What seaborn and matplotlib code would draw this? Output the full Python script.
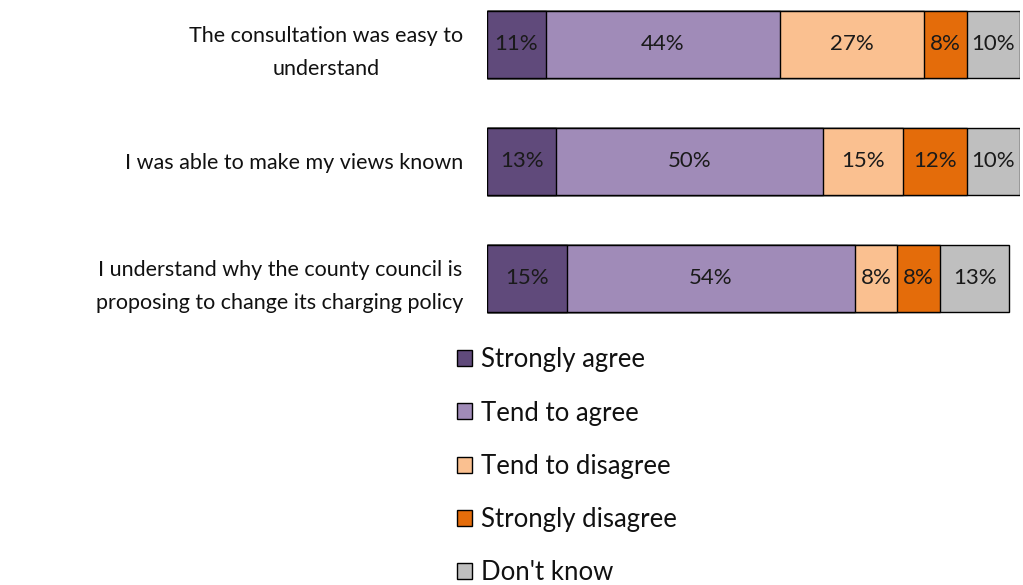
import matplotlib
matplotlib.use("Agg")
import matplotlib.pyplot as plt
import matplotlib.patches as mpatches
import numpy as np
import pandas as pd
import seaborn as sns

# Survey statements and response shares (%)
statements = [
    "The consultation was easy to\nunderstand",
    "I was able to make my views known",
    "I understand why the county council is\nproposing to change its charging policy",
]
responses = ["Strongly agree", "Tend to agree", "Tend to disagree",
             "Strongly disagree", "Don't know"]
strongly_agree = [11, 13, 15]
tend_to_agree = [44, 50, 54]
tend_to_disagree = [27, 15, 8]
strongly_disagree = [8, 12, 8]
dont_know = [10, 10, 13]
colors = ["#604A7B", "#A08BB8", "#FAC090", "#E46C0A", "#BFBFBF"]

sns.set_theme(style="white")
plt.rcParams["font.family"] = ["Lato", "DejaVu Sans"]

df = pd.DataFrame({
    "statement": statements,
    responses[0]: strongly_agree,
    responses[1]: tend_to_agree,
    responses[2]: tend_to_disagree,
    responses[3]: strongly_disagree,
    responses[4]: dont_know,
})
cum = df[responses].cumsum(axis=1)

fig = plt.figure(figsize=(10.23, 5.85), dpi=100)
ax = fig.add_axes([0.476, 0.4547, 0.521, 0.540])

# stacked bars: draw cumulative totals from the outermost layer inwards
for resp, col in reversed(list(zip(responses, colors))):
    sns.barplot(x=cum[resp], y=df["statement"], orient="h", color=col,
                edgecolor="black", linewidth=1.0, width=0.573, ax=ax,
                saturation=1)

# percentage labels at segment centres
for i in range(len(df)):
    for resp in responses:
        val = df.loc[i, resp]
        mid = cum.loc[i, resp] - val / 2
        ax.text(mid, i, f"{val}%", ha="center", va="center",
                fontsize=16, color="#1a1a1a")

ax.set_xlim(0, 100)
ax.set_ylim(2.35, -0.35)
ax.set_xlabel("")
ax.set_ylabel("")
ax.set_xticks([])
ax.tick_params(axis="y", length=0, pad=17)
for lbl in ax.get_yticklabels():
    lbl.set_fontsize(15.5)
    lbl.set_multialignment("center")
    lbl.set_linespacing(1.8)
    lbl.set_color("#111111")
for s in ax.spines.values():
    s.set_visible(False)

handles = [mpatches.Patch(facecolor=c, edgecolor="black", linewidth=1.0, label=r)
           for r, c in zip(responses, colors)]
fig.legend(handles=handles, loc="upper left", bbox_to_anchor=(0.437, 0.424),
           frameon=False, fontsize=18.5, handlelength=0.58, handleheight=0.58,
           handletextpad=0.35, labelspacing=1.1, borderaxespad=0,
           labelcolor="#111111")

fig.savefig("out.png", dpi=100, facecolor="white")
